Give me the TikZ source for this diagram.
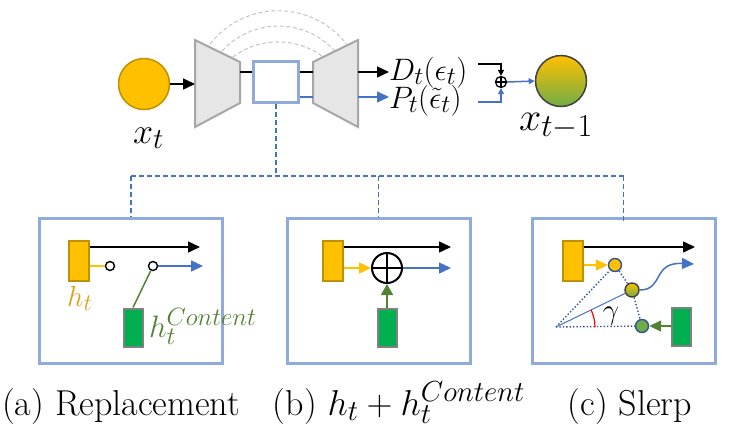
\RequirePackage{fix-cm}
\documentclass[tikz,border=0pt]{standalone}
\usetikzlibrary{arrows.meta}
\DeclareMathSizes{29}{29}{23.5}{19}
\DeclareMathSizes{31}{31}{25}{20}
\DeclareMathSizes{36}{36}{29}{23}
\DeclareMathSizes{40}{40}{32}{25}
\definecolor{gold}{HTML}{FFC000}
\definecolor{goldd}{HTML}{BF9000}
\definecolor{goldtxt}{HTML}{D9A21B}
\definecolor{bluel}{HTML}{4472C4}
\definecolor{boxb}{HTML}{8FAADC}
\definecolor{greenf}{HTML}{00B050}
\definecolor{greenl}{HTML}{548235}
\definecolor{greenc}{HTML}{70AD47}
\definecolor{grayb}{HTML}{A6A6A6}
\definecolor{grayf}{HTML}{E7E6E6}
\definecolor{grayd}{HTML}{BFBFBF}
\definecolor{darkb}{HTML}{2F5597}
\definecolor{darkc}{HTML}{404040}
\begin{document}
\begin{tikzpicture}[x=1pt,y=-1pt,
  trap/.style={draw=grayb, fill=grayf, line width=2pt, line join=miter},
  panel/.style={draw=boxb, line width=3pt, minimum width=183pt, minimum height=145pt, inner sep=0pt},
  goldrect/.style={draw=goldd, fill=gold, line width=1.5pt, minimum width=20pt, minimum height=40pt, inner sep=0pt},
  greenrect/.style={draw=gray, fill=greenf, line width=2pt, minimum width=19pt, minimum height=38pt, inner sep=0pt},
  blk/.style={line width=1.5pt, -{Triangle[length=12pt,width=11pt]}},
  blu/.style={bluel, line width=1.5pt, -{Triangle[length=12pt,width=11pt]}},
  smallblk/.style={line width=1.5pt, -{Triangle[length=6pt,width=6pt]}},
  smallblu/.style={bluel, line width=1.5pt, -{Triangle[length=6pt,width=6pt]}},
  sdot/.style={circle, draw, line width=1.4pt, fill=white, minimum size=9pt, inner sep=0pt},
  dotline/.style={darkb, line width=1.4pt, dotted},
  treedash/.style={bluel, line width=1.5pt, dash pattern=on 5pt off 3pt},
  skip/.style={grayd, line width=0.9pt, dash pattern=on 4pt off 2.5pt},
  lab/.style={inner sep=0pt, font=\fontsize{29}{32}\selectfont},
  biglab/.style={inner sep=0pt, font=\fontsize{31}{34}\selectfont},
  captxt/.style={inner sep=0pt, font=\fontsize{36}{40}\selectfont}]
\useasboundingbox (0,0) rectangle (747,429);

% skip connections
\draw[skip] (210,44) arc[start angle=-142, end angle=-38, radius=86.6];
\draw[skip] (222,51) arc[start angle=-137.7, end angle=-42.3, radius=76.3];
\draw[skip] (233,57) arc[start angle=-127, end angle=-53, radius=75];

% input circle
\node[circle, draw=goldd, fill=gold, line width=1.5pt, minimum size=51pt, inner sep=0pt] (xt) at (144,84) {};
\node[anchor=base west, inner sep=0pt, font=\fontsize{36}{40}\selectfont] (lxt) at (133,143) {$x_t$};

% encoder / decoder
\draw[trap] (195,40) -- (240,62) -- (240,103) -- (195,127) -- cycle;
\draw[trap] (313,62) -- (358,40) -- (358,127) -- (313,103) -- cycle;
\coordinate (encL) at (195,84);
\coordinate (encR) at (240,72);
\coordinate (decL) at (313,72);
\coordinate (decLb) at (313,97);
\coordinate (decR) at (358,72);
\coordinate (decRb) at (358,97);

\node[draw=boxb, line width=2.5pt, fill=white, minimum width=45pt, minimum height=41pt, inner sep=0pt] (mid) at (276,82) {};

\draw[blk] (xt) -- (encL);
\draw[line width=1.5pt] (encR) -- (encR -| mid.west);
\draw[line width=1.5pt] (mid.east |- decL) -- (decL);
\draw[bluel, line width=1.5pt] (mid.east |- decLb) -- (decLb);

% outputs
\node[biglab, anchor=base west] (D) at (389,80) {$D_t(\epsilon_t)$};
\node[biglab, anchor=base west] (P) at (389,108) {$P_t(\tilde{\epsilon}_t)$};
\draw[blk] (decR) -- (decR -| D.west);
\draw[blu] (decRb) -- (decRb -| P.west);

\node[circle, draw, line width=1.3pt, minimum size=11pt, inner sep=0pt] (plus) at (501,82) {};
\draw[line width=1.3pt] (plus.north) -- (plus.south) (plus.west) -- (plus.east);
\coordinate (dEnd) at (478,64);
\coordinate (pEnd) at (478,102);
\draw[smallblk] (dEnd) -| (plus.north);
\draw[smallblu] (pEnd) -| (plus.south);

\node[circle, draw=darkc, line width=1.5pt, top color=gold, bottom color=greenc, minimum size=51pt, inner sep=0pt] (xt1) at (561,81) {};
\draw[smallblu] (plus.east) -- (xt1.west);
\node[anchor=base west, inner sep=0pt, font=\fontsize{40}{44}\selectfont] (lxt1) at (519,130) {$x_{t-1}$};

% panels
\node[panel] (pa) at (131,291) {};
\node[panel] (pb) at (378.5,291) {};
\node[panel] (pc) at (623.5,291) {};

\coordinate (hub) at (276,176);
\draw[treedash] (mid.south) -- (hub);
\draw[treedash] (pa.north |- hub) -- (pc.north |- hub);
\draw[treedash] (pa.north |- hub) -- (pa.north);
\draw[treedash] (pb.north |- hub) -- (pb.north);
\draw[treedash] (pc.north |- hub) -- ([yshift=-4pt]pc.north);

% panel (a)
\node[goldrect] (ga) at (79,261) {};
\node[greenrect] (gra) at (133,327.5) {};
\coordinate (aEnd1) at (200,247);
\coordinate (aEnd2) at (203,266);
\node[sdot] (sa1) at (110,266) {};
\node[sdot] (sa2) at (153,266) {};
\draw[blk] (ga.east |- aEnd1) -- (aEnd1);
\draw[gold, line width=1.5pt] (ga.east |- sa1) -- (sa1);
\draw[blu] (sa2) -- (aEnd2);
\draw[greenl, line width=1.5pt] (sa2) -- (gra.north);
\node[lab, anchor=base west, text=goldtxt] (lht) at (67,306) {$h_t$};
\node[biglab, anchor=base west, text=greenl] (lhc) at (149,337) {$h_t^{Content}$};

% panel (b)
\node[goldrect] (gb) at (333,261) {};
\node[greenrect] (grb) at (387,327.5) {};
\node[circle, draw, line width=2pt, minimum size=30pt, inner sep=0pt] (op) at (387,268) {};
\draw[line width=2pt] (op.north) -- (op.south) (op.west) -- (op.east);
\coordinate (bEnd1) at (451,247);
\coordinate (bEnd2) at (451,268);
\draw[blk] (gb.east |- bEnd1) -- (bEnd1);
\draw[gold, line width=1.5pt, -{Triangle[length=12pt,width=11pt]}] (gb.east |- op) -- (op.west);
\draw[blu] (op.east) -- (bEnd2);
\draw[greenl, line width=1.5pt, -{Triangle[length=11pt,width=12pt]}] (grb.north) -- (op.south);

% panel (c)
\node[goldrect] (gc) at (573,261) {};
\node[greenrect] (grc) at (681.5,327) {};
\coordinate (O) at (556,327);
\node[circle, draw=darkb, fill=gold, line width=1.4pt, minimum size=13pt, inner sep=0pt] (c1) at (615,265) {};
\node[circle, draw=darkc, top color=gold, bottom color=greenc, line width=1.4pt, minimum size=14pt, inner sep=0pt] (c2) at (632,290) {};
\node[circle, draw=darkb, fill=greenc, line width=1.4pt, minimum size=13pt, inner sep=0pt] (c3) at (642,326) {};
\coordinate (cEnd1) at (695,247);
\coordinate (cEnd2) at (694,264);
\draw[blk] (gc.east |- cEnd1) -- (cEnd1);
\draw[gold, line width=1.5pt, -{Triangle[length=12pt,width=11pt]}] (gc.east |- c1) -- (c1);
\draw[greenl, line width=1.5pt, -{Triangle[length=12pt,width=11pt]}] (grc.west |- c3) -- (c3);
\draw[dotline] (O) -- (c1);
\draw[dotline] (O) -- (c3);
\draw[dotline] (c1) -- (c2);
\draw[dotline] (c2) -- (c3);
\draw[bluel, line width=1pt] (O) -- (c2);
\draw[red, line width=1.2pt] (O) ++(39,0) arc[start angle=0, end angle=-26, radius=39];
\node[lab] (gam) at (611,316) {$\gamma$};
\draw[blu] (c2.east) .. controls (664,290) and (652,262) .. (cEnd2);

% captions
\node[captxt, anchor=base] (capa) at (121,415) {(a) Replacement};
\node[captxt, anchor=base] (capb) at (399,415) {(b) $h_t + h_t^{Content}$};
\node[captxt, anchor=base] (capc) at (630,415) {(c) Slerp};
\end{tikzpicture}
\end{document}
